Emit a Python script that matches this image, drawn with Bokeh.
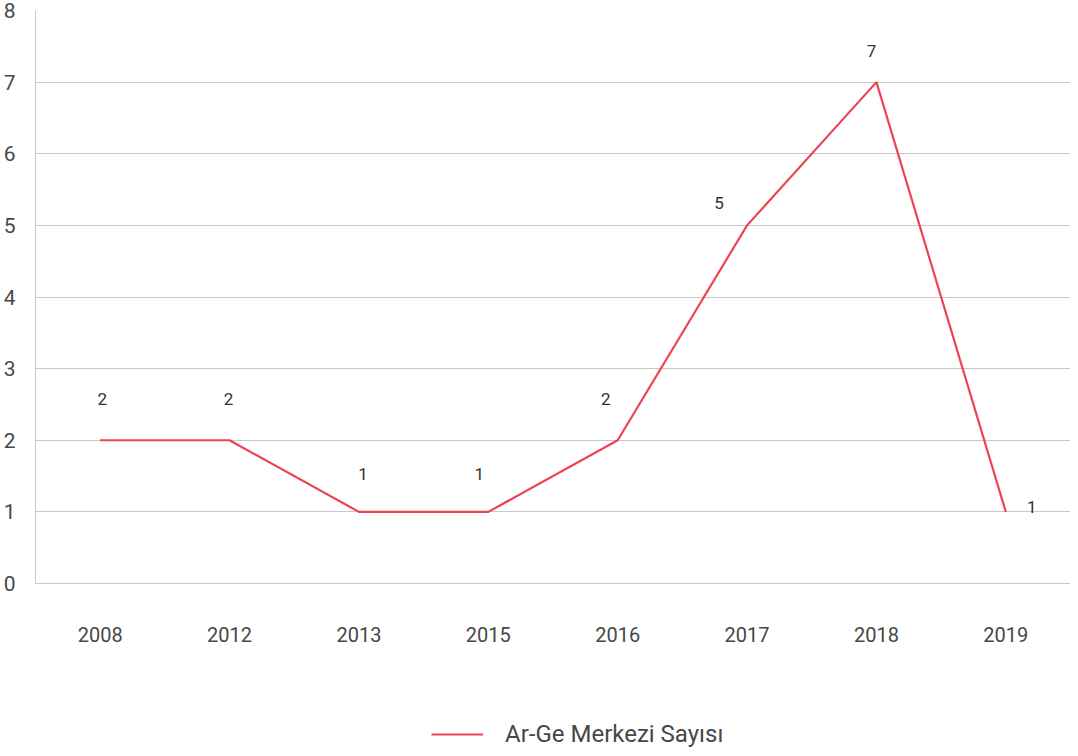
from bokeh.plotting import figure
from bokeh.layouts import column
from bokeh.models import ColumnDataSource, Legend, LegendItem, SingleIntervalTicker
from bokeh.core.properties import value
from bokeh.embed import file_html
from bokeh.resources import INLINE

years = ["2008", "2012", "2013", "2015", "2016", "2017", "2018", "2019"]
counts = [2, 2, 1, 1, 2, 5, 7, 1]
labels = [str(c) for c in counts]
series_name = "Ar-Ge Merkezi Sayısı"
# label placement offsets (pixels), style only
label_dx = [2, -1, 4, -9, -12, -28, -5, 26]
label_dy = [-41, -41, -38, -38, -41, -22, -31, -5]

FONT = "Roboto"
TXT = "#474747"
GRID = "#c8c8c8"
RED = "#ec4453"

src = ColumnDataSource(dict(x=years, y=counts, t=labels, dx=label_dx, dy=label_dy))

p = figure(x_range=years, y_range=(0, 8), width=1070, height=668,
           output_backend="svg", toolbar_location=None,
           min_border_left=35, min_border_right=0, min_border_top=10, min_border_bottom=85)
p.outline_line_color = None

line = p.line("x", "y", source=src, line_color=RED, line_width=2.2)
p.text("x", "y", text="t", source=src, x_offset="dx", y_offset="dy",
       text_align="center", text_baseline="middle", text_font=value(FONT),
       text_font_size="17px", text_color="#333333")

p.xgrid.grid_line_color = None
p.ygrid.grid_line_color = GRID
p.ygrid.ticker = SingleIntervalTicker(interval=1)
p.yaxis.ticker = SingleIntervalTicker(interval=1)

p.yaxis.axis_line_color = GRID
p.yaxis.major_tick_line_color = None
p.yaxis.minor_tick_line_color = None
p.yaxis.major_label_text_font = FONT
p.yaxis.major_label_text_font_size = "21px"
p.yaxis.major_label_text_color = TXT
p.yaxis.major_label_standoff = 14

p.xaxis.axis_line_color = GRID
p.xaxis.major_tick_line_color = None
p.xaxis.minor_tick_line_color = None
p.xaxis.major_label_text_font = FONT
p.xaxis.major_label_text_font_size = "20px"
p.xaxis.major_label_text_color = TXT
p.xaxis.major_label_standoff = 37

# legend-only strip below the chart
lg = figure(width=1070, height=80, x_range=(0, 1), y_range=(0, 1),
            output_backend="svg", toolbar_location=None,
            min_border_left=0, min_border_right=0, min_border_top=0, min_border_bottom=0)
lg.outline_line_color = None
lg.axis.visible = False
lg.grid.visible = False
dummy = lg.line(x=[-5, -4], y=[-5, -5], line_color=RED, line_width=2.2)
legend = Legend(items=[LegendItem(label=series_name, renderers=[dummy])],
                location=(396, 0), orientation="horizontal",
                label_text_font=FONT, label_text_font_size="24px",
                label_text_color=TXT, glyph_width=52, label_standoff=22,
                border_line_color=None, background_fill_alpha=0,
                margin=0, padding=0)
lg.add_layout(legend)

layout = column(p, lg, spacing=0)
open("out.html", "w").write(file_html(layout, INLINE))
